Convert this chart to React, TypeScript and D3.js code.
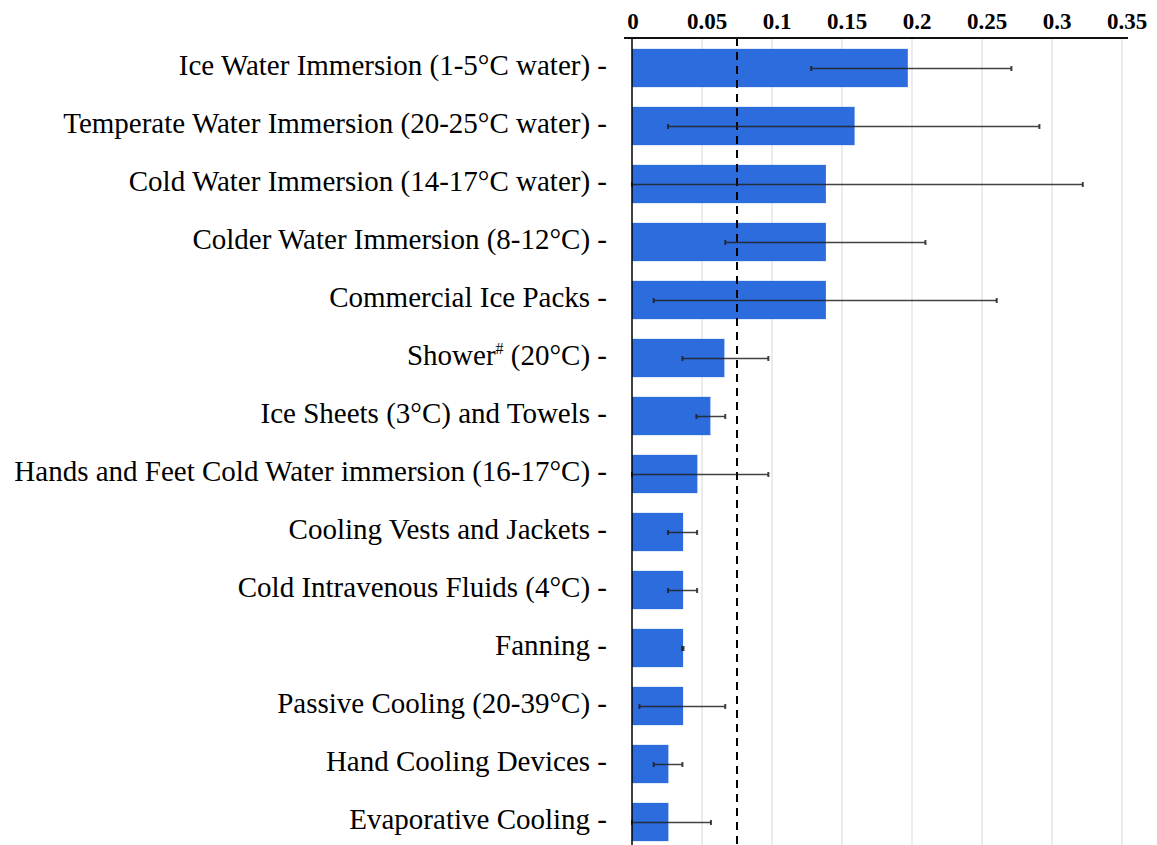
import React from "react";
import * as d3 from "d3";

const categories: string[] = [
  "Ice Water Immersion (1-5°C water)",
  "Temperate Water Immersion (20-25°C water)",
  "Cold Water Immersion (14-17°C water)",
  "Colder Water Immersion (8-12°C)",
  "Commercial Ice Packs",
  "Shower# (20°C)",
  "Ice Sheets (3°C) and Towels",
  "Hands and Feet Cold Water immersion (16-17°C)",
  "Cooling Vests and Jackets",
  "Cold Intravenous Fluids (4°C)",
  "Fanning",
  "Passive Cooling (20-39°C)",
  "Hand Cooling Devices",
  "Evaporative Cooling",
];
const values: number[] = [0.197, 0.159, 0.1385, 0.1385, 0.1385, 0.066, 0.056, 0.0467, 0.0365, 0.0365, 0.0365, 0.0365, 0.026, 0.026];
const errLow: number[] = [0.128, 0.0257, 0, 0.0666, 0.0155, 0.036, 0.046, 0, 0.0257, 0.0257, 0.0358, 0.0053, 0.0155, 0];
const errHigh: number[] = [0.271, 0.291, 0.322, 0.2096, 0.2605, 0.0974, 0.0666, 0.0974, 0.0465, 0.0465, 0.0368, 0.0666, 0.036, 0.0564];
const xTicks: number[] = [0, 0.05, 0.1, 0.15, 0.2, 0.25, 0.3, 0.35];
const refValue = 0.075;

const W = 1157;
const H = 845;
const SERIF = "'Liberation Serif', 'Times New Roman', serif";

export default function App() {
  const x = d3.scaleLinear().domain([0, 0.35]).range([632, 1122]);
  const y = d3
    .scaleBand<string>()
    .domain(categories)
    .range([39, 851])
    .paddingInner(0.34)
    .paddingOuter(0.17);
  const bw = y.bandwidth();
  const axisY = 38;

  const renderLabel = (c: string) => {
    if (c.includes("#")) {
      const [a, b] = c.split("#");
      return (
        <>
          <tspan>{a}</tspan>
          <tspan fontSize={16} dy={-11}>#</tspan>
          <tspan dy={11}>{b + " -"}</tspan>
        </>
      );
    }
    return c + " -";
  };

  return (
    <svg
      width={W}
      height={H}
      viewBox={`0 0 ${W} ${H}`}
      style={{ position: "absolute", left: 0, top: 0, background: "#fff" }}
    >
      {/* gridlines */}
      {xTicks.slice(1).map((t) => (
        <line key={"g" + t} x1={x(t)} x2={x(t)} y1={axisY} y2={H} stroke="#ebebeb" strokeWidth={2} />
      ))}
      {/* bars */}
      {categories.map((c, i) => (
        <rect
          key={"b" + i}
          x={x(0)}
          y={y(c)!}
          width={x(values[i]) - x(0)}
          height={bw}
          fill="#2d6cdd"
        />
      ))}
      {/* reference dashed line */}
      <line
        x1={x(refValue)}
        x2={x(refValue)}
        y1={axisY}
        y2={H}
        stroke="#000"
        strokeWidth={2}
        strokeDasharray="8,6"
      />
      {/* error bars */}
      {categories.map((c, i) => {
        const cy = y(c)! + bw / 2 + 0.5;
        const x1 = x(errLow[i]);
        const x2 = x(errHigh[i]);
        return (
          <g key={"e" + i} stroke="#222" strokeOpacity={0.85}>
            <line x1={x1} x2={x2} y1={cy} y2={cy} strokeWidth={1.5} />
            <line x1={x1} x2={x1} y1={cy - 2.5} y2={cy + 2.5} strokeWidth={2} />
            <line x1={x2} x2={x2} y1={cy - 2.5} y2={cy + 2.5} strokeWidth={2} />
          </g>
        );
      })}
      {/* y axis line */}
      <line x1={x(0)} x2={x(0)} y1={axisY} y2={H} stroke="#000" strokeWidth={1.5} />
      {/* top axis line */}
      <line x1={624} x2={1128} y1={axisY} y2={axisY} stroke="#111" strokeWidth={2} />
      {/* x tick labels */}
      {xTicks.map((t, i) => (
        <text
          key={"t" + t}
          x={x(t) + (i === 0 ? 1 : 5)}
          y={29}
          textAnchor="middle"
          fontFamily={SERIF}
          fontWeight="bold"
          fontSize={23}
          fill="#000"
        >
          {String(t)}
        </text>
      ))}
      {/* category labels */}
      {categories.map((c, i) => (
        <text
          key={"l" + i}
          x={607}
          y={y(c)! + bw / 2}
          dy="0.235em"
          textAnchor="end"
          fontFamily={SERIF}
          fontSize={29}
          fill="#000"
        >
          {renderLabel(c)}
        </text>
      ))}
    </svg>
  );
}
